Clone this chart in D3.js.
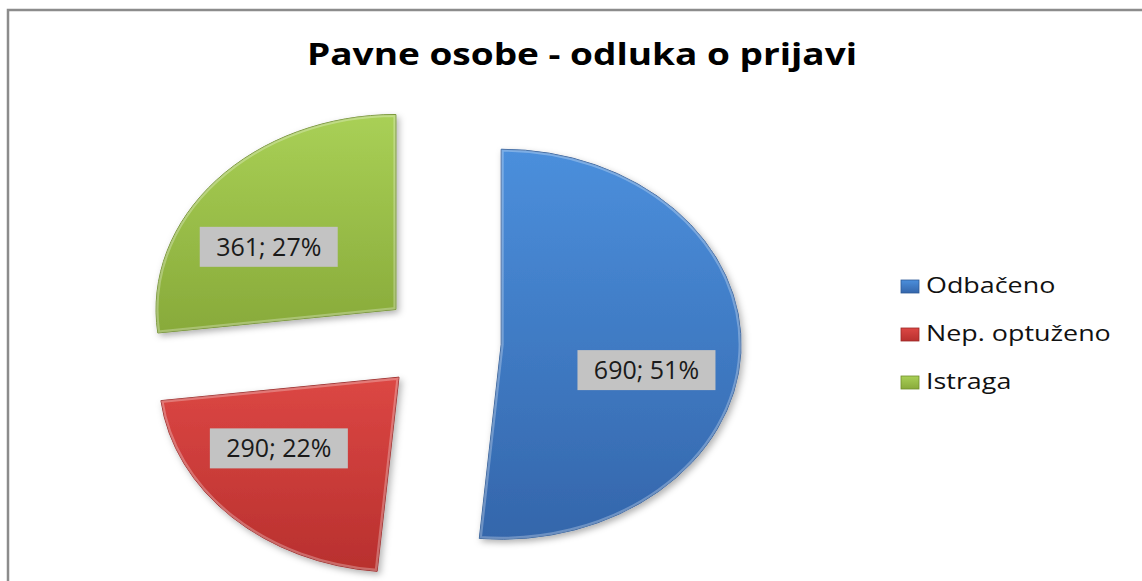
<!DOCTYPE html>
<html>
<head>
<meta charset="utf-8">
<script src="https://cdn.jsdelivr.net/npm/d3@7"></script>
<style>
  html, body { margin: 0; padding: 0; background: #fff; }
  svg { display: block; }
</style>
</head>
<body>
<svg id="chart" width="1142" height="581"></svg>
<script>
// ---- data ----
const title = "Pavne osobe - odluka o prijavi";
const categories = ["Odbačeno", "Nep. optuženo", "Istraga"];
const values = [690, 290, 361];
const percents = ["51%", "22%", "27%"];
const colorsTop = ["#4b8fdc", "#dc4744", "#a9d056"];
const colorsBottom = ["#3466ab", "#b8302e", "#88aa3a"];
const colorsEdge = ["#2d5a97", "#9c2826", "#6f8e2c"];

// ---- layout ----
const W = 1142, H = 581;
const cx = 441, cy = 342;     // pie centre
const ry = 195;               // vertical radius
const sx = 1.23;              // horizontal stretch of the pie
const explode = 49;           // explosion distance
const labelR = 0.62;          // label radius fraction
const labelShift = [0.17, 0.17, -0.18]; // label angular shift (rad)
const textStretch = 1.28;     // horizontal stretch of legend text

const svg = d3.select("#chart");
const defs = svg.append("defs");

// drop shadow
const sh = defs.append("filter").attr("id", "shadow")
  .attr("x", "-20%").attr("y", "-20%").attr("width", "140%").attr("height", "140%");
sh.append("feDropShadow").attr("dx", 2).attr("dy", 3).attr("stdDeviation", 3)
  .attr("flood-color", "#000").attr("flood-opacity", 0.3);

categories.forEach((c, i) => {
  const g = defs.append("linearGradient").attr("id", "grad" + i)
    .attr("x1", 0).attr("y1", 0).attr("x2", 0).attr("y2", 1);
  g.append("stop").attr("offset", "0%").attr("stop-color", colorsTop[i]);
  g.append("stop").attr("offset", "100%").attr("stop-color", colorsBottom[i]);
});

// border (right and bottom edges fall outside the picture)
svg.append("rect").attr("x", 8).attr("y", 10).attr("width", 1160).attr("height", 600)
  .attr("fill", "none").attr("stroke", "#8c8c8c").attr("stroke-width", 2.5);

// title
svg.append("text").attr("x", 307).attr("y", 65)
  .attr("font-family", "'Open Sans', sans-serif").attr("font-weight", "bold")
  .attr("font-size", 29.5).attr("fill", "#000")
  .attr("textLength", 550).attr("lengthAdjust", "spacingAndGlyphs")
  .text(title);

// pie
const pie = d3.pie().sort(null).value(d => d);
const arcs = pie(values);
const arc = d3.arc().innerRadius(0).outerRadius(ry);

arcs.forEach((d, i) => {
  defs.append("clipPath").attr("id", "clip" + i)
    .append("path").attr("d", arc(d));
});

const slices = svg.append("g").selectAll("g.slice").data(arcs).join("g")
  .attr("class", "slice")
  .attr("transform", d => {
    const mid = (d.startAngle + d.endAngle) / 2;
    const ox = Math.sin(mid) * explode * sx;
    const oy = -Math.cos(mid) * explode;
    return `translate(${cx + ox},${cy + oy}) scale(${sx},1)`;
  });

slices.append("path").attr("d", arc)
  .attr("fill", (d, i) => `url(#grad${i})`)
  .attr("stroke", (d, i) => colorsEdge[i])
  .attr("stroke-width", 1)
  .attr("vector-effect", "non-scaling-stroke")
  .attr("filter", "url(#shadow)");

// bevel highlight
slices.append("path").attr("d", arc)
  .attr("fill", "none")
  .attr("stroke", "#fff").attr("stroke-opacity", 0.28)
  .attr("stroke-width", 5)
  .attr("vector-effect", "non-scaling-stroke")
  .attr("clip-path", (d, i) => `url(#clip${i})`);

// labels
const labels = svg.append("g").selectAll("g.lab").data(arcs).join("g")
  .attr("class", "lab")
  .attr("transform", (d, i) => {
    const mid = (d.startAngle + d.endAngle) / 2;
    const ox = Math.sin(mid) * explode * sx;
    const oy = -Math.cos(mid) * explode;
    const la = mid + labelShift[i];
    const lx = cx + ox + Math.sin(la) * ry * labelR * sx;
    const ly = cy + oy - Math.cos(la) * ry * labelR;
    return `translate(${lx},${ly})`;
  });

labels.append("rect").attr("x", -69).attr("y", -20).attr("width", 138).attr("height", 40)
  .attr("fill", "#c3c3c3");
labels.append("text").attr("text-anchor", "middle").attr("dy", "0.36em")
  .attr("font-family", "'Open Sans', sans-serif").attr("font-size", 25)
  .attr("fill", "#1a1a1a")
  .text((d, i) => `${values[i]}; ${percents[i]}`);

// legend
const legend = svg.append("g").attr("transform", "translate(901,286)");
const li = legend.selectAll("g").data(categories).join("g")
  .attr("transform", (d, i) => `translate(0,${i * 48})`);
li.append("rect").attr("x", 0).attr("y", -6).attr("width", 18).attr("height", 13)
  .attr("fill", (d, i) => `url(#grad${i})`)
  .attr("stroke", (d, i) => colorsEdge[i]).attr("stroke-width", 0.8);
li.append("text")
  .attr("transform", `translate(25,0) scale(${textStretch},1)`)
  .attr("dy", "0.35em")
  .attr("font-family", "'Open Sans', sans-serif").attr("font-size", 21)
  .attr("fill", "#111").text(d => d);
</script>
</body>
</html>
